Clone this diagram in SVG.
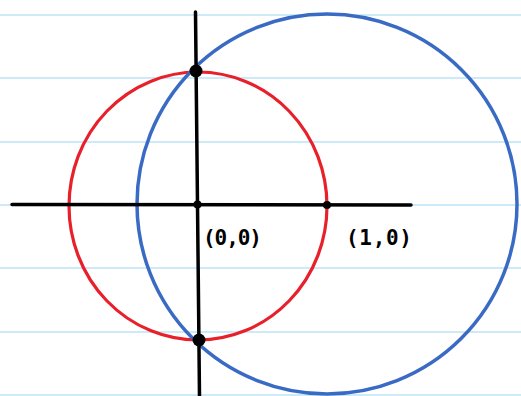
<svg xmlns="http://www.w3.org/2000/svg" width="521" height="396" viewBox="0 0 521 396">
<style>
.rule{stroke:#cdeaf8;stroke-width:2}
.axis{stroke:#000;stroke-width:3.5;stroke-linecap:round;fill:none}
.lbl{font-family:"DejaVu Sans Mono","Liberation Mono",monospace;font-size:21px;font-weight:bold;fill:#000}
</style>
<rect width="521" height="396" fill="#fff"/>
<g id="ruled-lines">
<line class="rule" x1="0" y1="15" x2="521" y2="15"/>
<line class="rule" x1="0" y1="78" x2="521" y2="78"/>
<line class="rule" x1="0" y1="142" x2="521" y2="142"/>
<line class="rule" x1="0" y1="205" x2="521" y2="205"/>
<line class="rule" x1="0" y1="268" x2="521" y2="268"/>
<line class="rule" x1="0" y1="332" x2="521" y2="332"/>
<line class="rule" x1="0" y1="395" x2="521" y2="395"/>
</g>
<g id="red-circle">
<ellipse cx="198" cy="206" rx="129" ry="134" fill="none" stroke="#e8202a" stroke-width="3.2"/>
</g>
<g id="blue-circle">
<circle cx="327" cy="204" r="190" fill="none" stroke="#3a6bc4" stroke-width="3.5"/>
</g>
<g id="axes">
<line class="axis" x1="12" y1="204.5" x2="411" y2="205"/>
<line class="axis" x1="195.5" y1="12" x2="199.5" y2="396"/>
</g>
<g id="points">
<circle cx="196" cy="71" r="6.5" fill="#000"/>
<circle cx="199" cy="340" r="6.5" fill="#000"/>
<circle cx="197.5" cy="204.5" r="4" fill="#000"/>
<circle cx="327" cy="205" r="4" fill="#000"/>
</g>
<g id="labels">
<text class="lbl" x="203" y="245" textLength="59" lengthAdjust="spacing">(0,0)</text>
<text class="lbl" x="346" y="245" textLength="66" lengthAdjust="spacing">(1,0)</text>
</g>
</svg>
